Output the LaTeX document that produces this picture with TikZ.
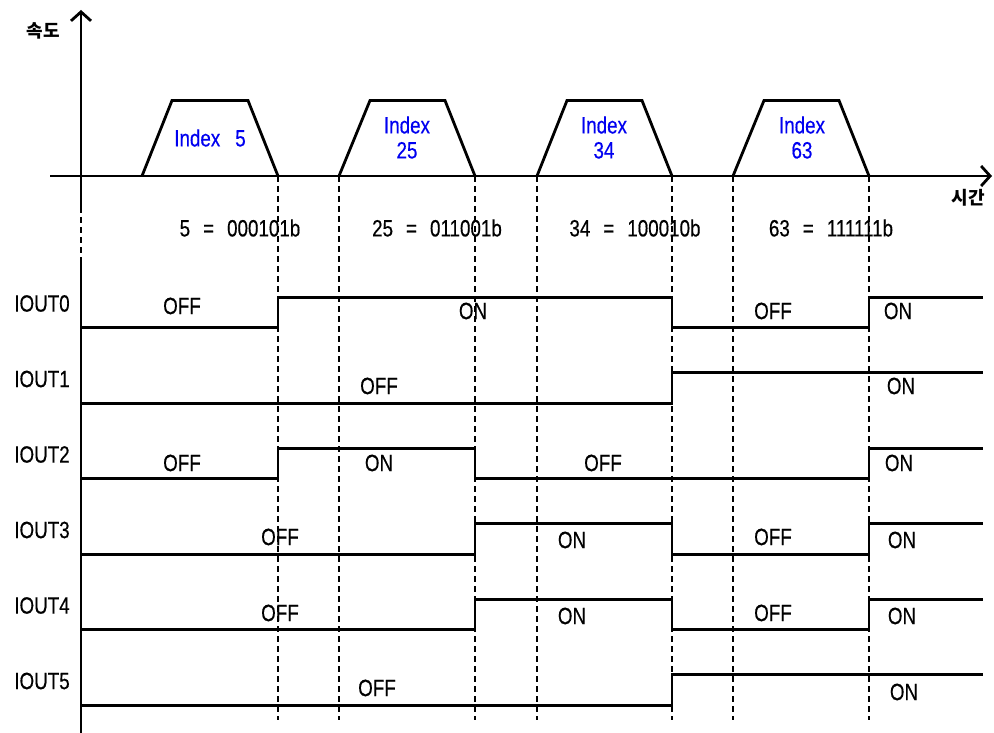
\documentclass[tikz,border=0pt]{standalone}
\usepackage{fontspec}
\setmainfont{Liberation Sans}[FakeStretch=0.8, FakeBold=0.4]
\newfontfamily\kr{Noto Sans CJK KR}
\usetikzlibrary{arrows.meta}
\begin{document}
\begin{tikzpicture}[x=1pt,y=-1pt,
  axis/.style={line width=2.8pt},
  sig/.style={line width=2.8pt},
  trap/.style={line width=2.8pt, line join=miter},
  guide/.style={line width=1.3pt, dash pattern=on 6pt off 4pt},
  lbl/.style={font=\fontsize{23.5}{25}\selectfont, inner sep=0pt},
  idx/.style={lbl, text={rgb,255:red,0;green,0;blue,240}, align=center},
  krl/.style={font=\kr\bfseries\fontsize{18}{18}\selectfont, inner sep=0pt},
  tip/.style={-{Straight Barb[length=9pt,width=20pt]}}]
\useasboundingbox (0,0) rectangle (994,733);

% dashed guide lines
\draw[guide] (81,207) -- (81,263);
\foreach \gx in {278,339,475,537,672,733,869}
  \draw[guide] (\gx,176) -- (\gx,720);

% axes
\draw[axis,tip] (81,207) -- (81,10);
\draw[axis,tip] (50,176) -- (992,176);
\draw[axis] (81,263) -- (81,733);

% speed profiles
\draw[trap] (142,176) -- (172,100.5) -- (248,100.5) -- (278,176);
\draw[trap] (339,176) -- (370,100.5) -- (445,100.5) -- (475,176);
\draw[trap] (537,176) -- (567,100.5) -- (642,100.5) -- (672,176);
\draw[trap] (733,176) -- (764,100.5) -- (839,100.5) -- (869,176);

\node[krl] (speed) at (43,31) {속도};
\node[krl] (time) at (968,198) {시간};

\node[idx] (i5) at (210,138) {Index\hspace{15pt}5};
\node[idx] (i25) at (407,137.5) {Index\\25};
\node[idx] (i34) at (604,137.5) {Index\\34};
\node[idx] (i63) at (802,137.5) {Index\\63};

\node[lbl] (b5) at (240,228) {5\hspace{13pt}=\hspace{13pt}000101b};
\node[lbl] (b25) at (437,228) {25\hspace{13pt}=\hspace{13pt}011001b};
\node[lbl] (b34) at (635,228) {34\hspace{13pt}=\hspace{13pt}100010b};
\node[lbl] (b63) at (831,228) {63\hspace{13pt}=\hspace{13pt}111111b};

% row names
\node[lbl] (r0) at (42,303.5) {IOUT0};
\node[lbl] (r1) at (42,379) {IOUT1};
\node[lbl] (r2) at (42,454.5) {IOUT2};
\node[lbl] (r3) at (42,530) {IOUT3};
\node[lbl] (r4) at (42,605.5) {IOUT4};
\node[lbl] (r5) at (42,681) {IOUT5};

% signals
\draw[sig] (81,327.7) -- (278,327.7) -- (278,297.2) -- (672,297.2) -- (672,327.7) -- (869,327.7) -- (869,297.2) -- (983,297.2);
\draw[sig] (81,403.2) -- (672,403.2) -- (672,372.7) -- (983,372.7);
\draw[sig] (81,478.7) -- (278,478.7) -- (278,448.2) -- (475,448.2) -- (475,478.7) -- (869,478.7) -- (869,448.2) -- (983,448.2);
\draw[sig] (81,554.2) -- (475,554.2) -- (475,523.7) -- (672,523.7) -- (672,554.2) -- (869,554.2) -- (869,523.7) -- (983,523.7);
\draw[sig] (81,629.7) -- (475,629.7) -- (475,599.2) -- (672,599.2) -- (672,629.7) -- (869,629.7) -- (869,599.2) -- (983,599.2);
\draw[sig] (81,705.2) -- (672,705.2) -- (672,674.7) -- (983,674.7);

% state labels
\node[lbl] (s00) at (182,306) {OFF};
\node[lbl] (s01) at (473,311) {ON};
\node[lbl] (s02) at (773,311) {OFF};
\node[lbl] (s03) at (898,311) {ON};

\node[lbl] (s10) at (379,386) {OFF};
\node[lbl] (s11) at (901,386) {ON};

\node[lbl] (s20) at (182,463) {OFF};
\node[lbl] (s21) at (379,463) {ON};
\node[lbl] (s22) at (603,463) {OFF};
\node[lbl] (s23) at (899,463) {ON};

\node[lbl] (s30) at (280,537) {OFF};
\node[lbl] (s31) at (572,540) {ON};
\node[lbl] (s32) at (773,537) {OFF};
\node[lbl] (s33) at (902,540) {ON};

\node[lbl] (s40) at (280,613) {OFF};
\node[lbl] (s41) at (572,616) {ON};
\node[lbl] (s42) at (773,613) {OFF};
\node[lbl] (s43) at (902,616) {ON};

\node[lbl] (s50) at (377,688) {OFF};
\node[lbl] (s51) at (904,692) {ON};
\end{tikzpicture}
\end{document}
